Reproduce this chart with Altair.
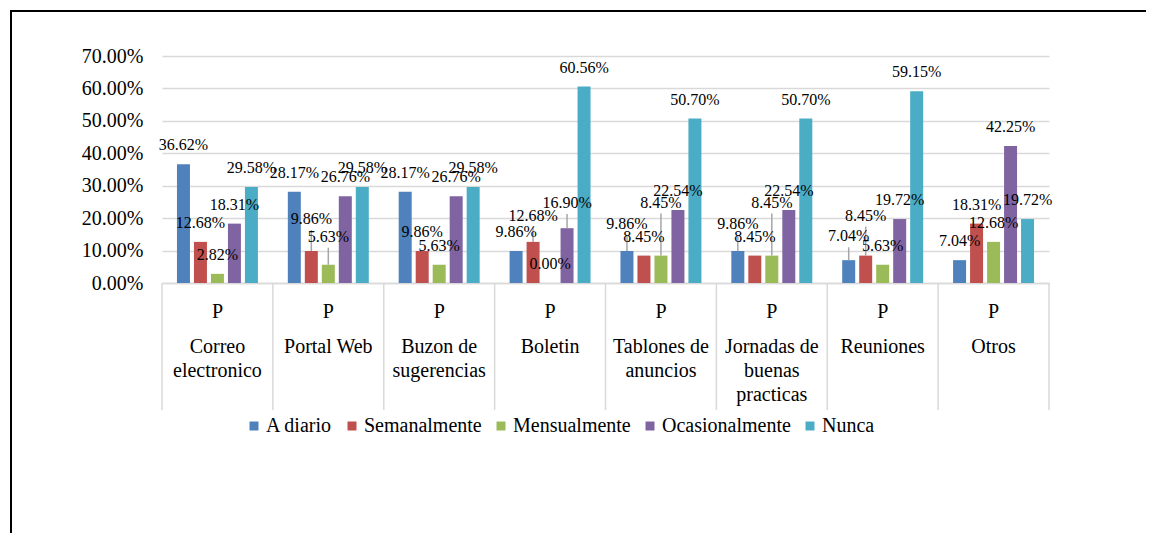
import altair as alt
import pandas as pd

# ---------------- data ----------------
categories = ["Correo electronico", "Portal Web", "Buzon de sugerencias", "Boletin",
              "Tablones de anuncios", "Jornadas de buenas practicas", "Reuniones", "Otros"]
category_lines = ["Correo\nelectronico", "Portal Web", "Buzon de\nsugerencias", "Boletin",
                  "Tablones de\nanuncios", "Jornadas de\nbuenas\npracticas", "Reuniones", "Otros"]
group_label = "P"
series = ["A diario", "Semanalmente", "Mensualmente", "Ocasionalmente", "Nunca"]

a_diario = [36.62, 28.17, 28.17, 9.86, 9.86, 9.86, 7.04, 7.04]
semanalmente = [12.68, 9.86, 9.86, 12.68, 8.45, 8.45, 8.45, 18.31]
mensualmente = [2.82, 5.63, 5.63, 0.00, 8.45, 8.45, 5.63, 12.68]
ocasionalmente = [18.31, 26.76, 26.76, 16.90, 22.54, 22.54, 19.72, 42.25]
nunca = [29.58, 29.58, 29.58, 60.56, 50.70, 50.70, 59.15, 19.72]

colors = ["#4F81BD", "#C0504D", "#9BBB59", "#8064A2", "#4BACC6"]
y_ticks = [0, 0.1, 0.2, 0.3, 0.4, 0.5, 0.6, 0.7]

# labels that were moved upward (in percentage points) and got a leader line
label_lift = {
    ("Portal Web", "Semanalmente"): 4.0,
    ("Portal Web", "Mensualmente"): 2.8,
    ("Boletin", "Semanalmente"): 2.2,
    ("Boletin", "Ocasionalmente"): 1.9,
    ("Tablones de anuncios", "A diario"): 2.5,
    ("Tablones de anuncios", "Mensualmente"): 10.5,
    ("Jornadas de buenas practicas", "A diario"): 2.5,
    ("Jornadas de buenas practicas", "Mensualmente"): 10.5,
    ("Reuniones", "A diario"): 1.5,
    ("Reuniones", "Semanalmente"): 6.5,
}

series_values = [a_diario, semanalmente, mensualmente, ocasionalmente, nunca]
rows = []
for s, vals in zip(series, series_values):
    for c, v in zip(categories, vals):
        lift = label_lift.get((c, s), 0.0)
        rows.append({"cat": c, "series": s, "value": v / 100,
                     "lift": lift / 100, "label_pos": (v + lift) / 100})
df = pd.DataFrame(rows)
cat_df = pd.DataFrame({"cat": categories, "lines": category_lines,
                       "group": [group_label] * len(categories)})

# ---------------- layout ----------------
W, H = 887, 227
FONT = "'Liberation Serif', 'Times New Roman', 'DejaVu Serif', serif"
GRID = "#d9d9d9"

x_enc = alt.X("cat:N", sort=categories, title=None,
              scale=alt.Scale(paddingInner=0, paddingOuter=0),
              axis=alt.Axis(labels=False, ticks=False, domainColor=GRID, domainWidth=1.5))
xoff = alt.XOffset("series:N", sort=series,
                   scale=alt.Scale(paddingInner=0.235, paddingOuter=0.88))
y_scale = alt.Scale(domain=[0, 0.7], nice=False)
y_axis = alt.Axis(values=y_ticks, format=".2%", grid=True, gridColor=GRID,
                  gridWidth=1.5, domain=False, ticks=False, labelPadding=19,
                  labelOverlap=False, labelFont=FONT, labelFontSize=20,
                  labelColor="#000000", title=None)

base = alt.Chart(df)

bars = base.mark_bar().encode(
    x=x_enc, xOffset=xoff,
    y=alt.Y("value:Q", scale=y_scale, title=None, axis=y_axis),
    color=alt.Color("series:N", sort=series,
                    scale=alt.Scale(domain=series, range=colors),
                    legend=alt.Legend(title=None, orient="none", legendX=82, legendY=360,
                                      direction="horizontal", symbolType="square",
                                      symbolSize=81, symbolStrokeWidth=0,
                                      labelFont=FONT, labelFontSize=20, labelColor="#000000",
                                      labelOffset=2, columnPadding=9)),
)

leaders = base.transform_filter("datum.lift > 0").mark_rule(
    color="#a6a6a6", strokeWidth=1.5, y2Offset=-8
).encode(x=x_enc, xOffset=xoff,
         y=alt.Y("value:Q", scale=y_scale, title=None, axis=y_axis), y2="label_pos:Q")

labels = base.mark_text(font=FONT, fontSize=16, baseline="middle", dy=-19,
                        color="#000000").encode(
    x=x_enc, xOffset=xoff,
    y=alt.Y("label_pos:Q", scale=y_scale, title=None, axis=y_axis),
    text=alt.Text("value:Q", format=".2%"),
)

cat_base = alt.Chart(cat_df)
dividers = cat_base.mark_rule(color=GRID, strokeWidth=1.5).encode(
    x=alt.X("cat:N", sort=categories, bandPosition=0),
    y=alt.value(H), y2=alt.value(H + 127))
divider_end = cat_base.transform_filter(
    alt.datum.cat == categories[-1]).mark_rule(color=GRID, strokeWidth=1.5).encode(
    x=alt.X("cat:N", sort=categories, bandPosition=1),
    y=alt.value(H), y2=alt.value(H + 127))

p_text = cat_base.mark_text(font=FONT, fontSize=20, baseline="top",
                            color="#000000").encode(
    x=alt.X("cat:N", sort=categories), y=alt.value(H + 19), text="group:N")
name_text = cat_base.mark_text(font=FONT, fontSize=20, baseline="top", lineBreak="\n",
                               lineHeight=24, color="#000000").encode(
    x=alt.X("cat:N", sort=categories), y=alt.value(H + 54), text="lines:N")

frame_df = pd.DataFrame({"d": [0]})
frame_top = alt.Chart(frame_df).mark_rule(color="#000000", strokeWidth=2).encode(
    x=alt.value(-152), x2=alt.value(W + 97), y=alt.value(-45))
frame_left = alt.Chart(frame_df).mark_rule(color="#000000", strokeWidth=2).encode(
    x=alt.value(-151), y=alt.value(-46), y2=alt.value(H + 250))

chart = alt.layer(
    bars, leaders, labels, dividers, divider_end, p_text, name_text, frame_top, frame_left
).properties(
    width=W, height=H,
    padding={"left": 154, "top": 48, "right": 97, "bottom": 250},
    autosize=alt.AutoSizeParams(type="none"),
).configure_view(stroke=None).configure_axisY(labelOverlap=False)

chart.save("out.html", embed_options={"renderer": "svg", "actions": False})
